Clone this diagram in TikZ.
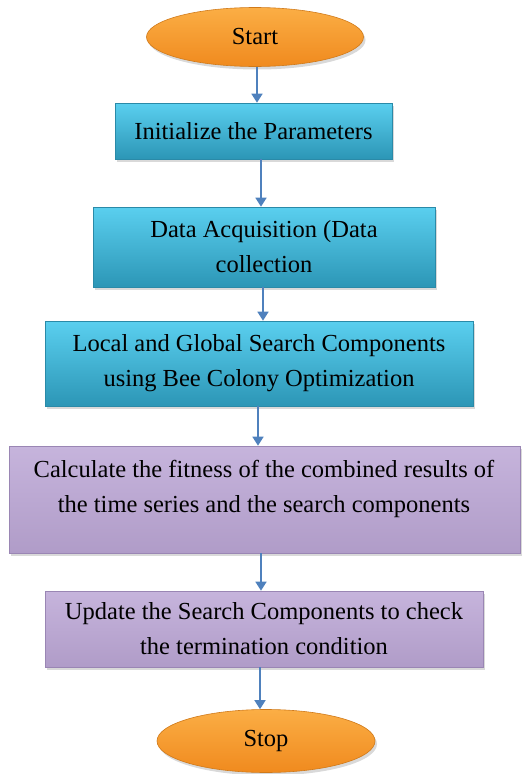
\documentclass[tikz,border=0pt]{standalone}
\usepackage{fontspec}
\setmainfont{Liberation Serif}
\usetikzlibrary{shadows,arrows.meta,shapes.geometric}
\definecolor{tealtop}{HTML}{5ACFEF}
\definecolor{tealbot}{HTML}{2C96B6}
\definecolor{tealdraw}{HTML}{2A8AA8}
\definecolor{purptop}{HTML}{C6B4DC}
\definecolor{purpbot}{HTML}{B09CC8}
\definecolor{purpdraw}{HTML}{9A86B4}
\definecolor{orgtop}{HTML}{FBAE45}
\definecolor{orgbot}{HTML}{F08A1E}
\definecolor{orgdraw}{HTML}{D07A1A}
\definecolor{arrowblue}{HTML}{4F81BD}
\tikzset{
  base/.style={font=\fontsize{24.5}{35}\selectfont, align=center, inner sep=0pt,
    drop shadow={shadow xshift=2pt,shadow yshift=-3pt,opacity=0.3}},
  tealbox/.style={base, rectangle, draw=tealdraw, line width=0.6pt,
    top color=tealtop, bottom color=tealbot},
  purpbox/.style={base, rectangle, draw=purpdraw, line width=0.6pt,
    top color=purptop, bottom color=purpbot},
  term/.style={base, ellipse, draw=orgdraw, line width=0.6pt,
    top color=orgtop, bottom color=orgbot},
  lbl/.style={font=\fontsize{24.5}{35}\selectfont, align=center, inner sep=0pt},
  arr/.style={draw=arrowblue, line width=1.5pt, -{Triangle[width=11pt,length=9pt]}}
}
\begin{document}
\begin{tikzpicture}[x=1pt,y=-1pt]
\useasboundingbox (0,0) rectangle (524,774);
\node[term, minimum width=217pt, minimum height=59pt] (start) at (255,37) {Start};
\node[tealbox, minimum width=277pt, minimum height=56pt] (b1) at (253.5,131) {Initialize the Parameters};
\node[tealbox, minimum width=342pt, minimum height=80pt] (b2) at (264,247) {Data Acquisition (Data\\collection};
\node[tealbox, minimum width=428pt, minimum height=85pt] (b3) at (259,363.5) {Local and Global Search Components\\using Bee Colony Optimization};
\node[purpbox, minimum width=511pt, minimum height=107pt] (b4) at (264.5,499.5) {};
\node[lbl] (b4t) at (264,489) {Calculate the fitness of the combined results of\\the time series and the search components};
\node[purpbox, minimum width=438pt, minimum height=76pt] (b5) at (264,629) {Update the Search Components to check\\the termination condition};
\node[term, minimum width=218pt, minimum height=63pt] (stop) at (266,741) {Stop};
\coordinate (x1) at (257,0);
\coordinate (x2) at (261,0);
\coordinate (x3) at (263,0);
\coordinate (x4) at (258,0);
\coordinate (x5) at (261,0);
\coordinate (x6) at (260,0);
\draw[arr] (x1 |- start.south) -- (x1 |- b1.north);
\draw[arr] (x2 |- b1.south) -- (x2 |- b2.north);
\draw[arr] (x3 |- b2.south) -- (x3 |- b3.north);
\draw[arr] (x4 |- b3.south) -- (x4 |- b4.north);
\draw[arr] (x5 |- b4.south) -- (x5 |- b5.north);
\draw[arr] (x6 |- b5.south) -- (x6 |- stop.north);
\end{tikzpicture}
\end{document}
